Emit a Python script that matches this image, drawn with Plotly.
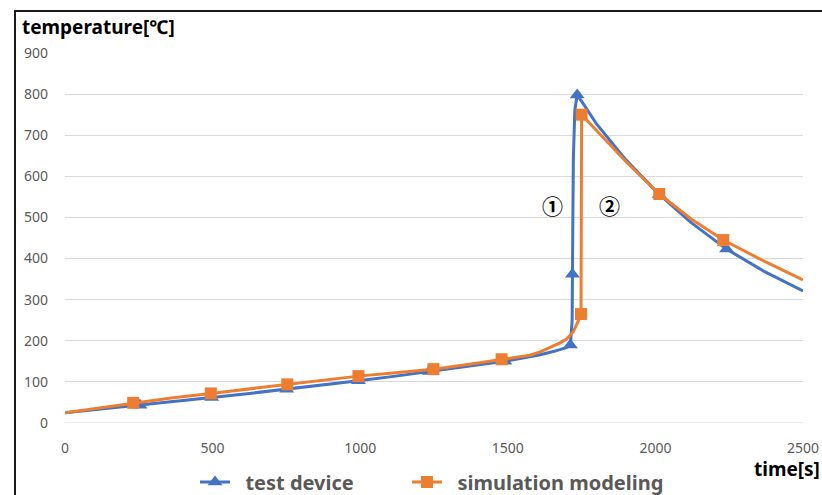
import plotly.graph_objects as go

# ---- data ----
test_line_t = [0, 125, 254, 375, 497, 625, 751, 875, 994, 1120, 1234, 1370, 1490,
               1560, 1610, 1660, 1700, 1712, 1718, 1719, 1722, 1727, 1735, 1760,
               1800, 1900, 2013, 2120, 2241, 2370, 2500]
test_line_T = [25, 34, 43, 53, 62, 72, 82, 93, 103, 114, 125, 137, 150,
               159, 166, 175, 184, 190, 250, 362, 640, 761, 798, 772,
               728, 640, 556, 488, 423, 368, 321]
test_mark_t = [254, 497, 751, 994, 1234, 1490, 1712, 1719, 1735, 2013, 2241]
test_mark_T = [43, 62, 82, 103, 125, 150, 190, 362, 798, 556, 423]

sim_line_t = [0, 115, 231, 360, 494, 620, 753, 875, 994, 1120, 1248, 1370, 1479,
              1575, 1610, 1654, 1677, 1700, 1722, 1740, 1748, 1750, 1800, 1900,
              2013, 2120, 2230, 2370, 2500]
sim_line_T = [25, 37, 49, 61, 72, 83, 94, 104, 114, 122, 131, 143, 155,
              165, 173, 188, 195, 205, 222, 250, 265, 750, 712, 636,
              557, 497, 445, 393, 348]
sim_mark_t = [231, 494, 753, 994, 1248, 1479, 1748, 1750, 2013, 2230]
sim_mark_T = [49, 72, 94, 114, 131, 155, 265, 750, 557, 445]

x_ticks = [0, 500, 1000, 1500, 2000, 2500]
y_ticks = [0, 100, 200, 300, 400, 500, 600, 700, 800, 900]

BLUE = "#4472C4"
ORANGE = "#ED7D31"
FONT = "Noto Sans, Noto Sans CJK KR, sans-serif"
CJK = "Noto Sans CJK KR, sans-serif"

fig = go.Figure()
fig.add_trace(go.Scatter(x=test_line_t, y=test_line_T, mode="lines",
                         line=dict(color=BLUE, width=3), showlegend=False,
                         hoverinfo="skip"))
fig.add_trace(go.Scatter(x=test_mark_t, y=test_mark_T, mode="markers",
                         marker=dict(symbol="triangle-up", size=13, color=BLUE),
                         showlegend=False))
fig.add_trace(go.Scatter(x=sim_line_t, y=sim_line_T, mode="lines",
                         line=dict(color=ORANGE, width=3), showlegend=False,
                         hoverinfo="skip"))
fig.add_trace(go.Scatter(x=sim_mark_t, y=sim_mark_T, mode="markers",
                         marker=dict(symbol="square", size=12, color=ORANGE),
                         showlegend=False))
# legend entries
fig.add_trace(go.Scatter(x=[None], y=[None], mode="lines+markers",
                         name="&nbsp;&nbsp;test device", legend="legend",
                         line=dict(color=BLUE, width=3),
                         marker=dict(symbol="triangle-up", size=13, color=BLUE)))
fig.add_trace(go.Scatter(x=[None], y=[None], mode="lines+markers",
                         name="&nbsp;&nbsp;simulation modeling", legend="legend2",
                         line=dict(color=ORANGE, width=3),
                         marker=dict(symbol="square", size=12, color=ORANGE)))

leg_font = dict(size=20, color="#595959", family=FONT, weight="bold")
fig.update_layout(
    width=822, height=495,
    margin=dict(l=65, r=19, t=53, b=72, autoexpand=False),
    paper_bgcolor="white", plot_bgcolor="white",
    font=dict(family=FONT, size=14, color="#595959"),
    showlegend=True,
    legend=dict(orientation="h", x=(195 - 65) / 738, y=(423 - 482) / 370,
                xanchor="left", yanchor="middle", font=leg_font,
                bgcolor="rgba(0,0,0,0)", itemwidth=30),
    legend2=dict(orientation="h", x=(407 - 65) / 738, y=(423 - 482) / 370,
                 xanchor="left", yanchor="middle", font=leg_font,
                 bgcolor="rgba(0,0,0,0)", itemwidth=30),
    xaxis=dict(range=[0, 2500], tickvals=x_ticks, showgrid=False, zeroline=False,
               showline=False, ticks="", ticklabelstandoff=15,
               tickfont=dict(size=14, color="#595959")),
    yaxis=dict(range=[0, 900], tickvals=y_ticks, showgrid=True, gridcolor="#D9D9D9",
               gridwidth=1, zeroline=False, showline=False, ticks="",
               ticklabelstandoff=16, tickfont=dict(size=14, color="#595959")),
    annotations=[
        dict(text="<b>temperature[℃]</b>", xref="paper", yref="paper",
             x=(20 - 65) / 738, y=(423 - 27) / 370, xanchor="left", yanchor="middle",
             showarrow=False, font=dict(size=19, color="black", family=FONT)),
        dict(text="<b>time[s]</b>", xref="paper", yref="paper",
             x=(822 - 65) / 738, y=(423 - 469) / 370, xanchor="right", yanchor="middle",
             showarrow=False, font=dict(size=19, color="black", family=FONT)),
        dict(text="<b>①</b>", x=1650, y=530, xref="x", yref="y", showarrow=False,
             font=dict(size=21, color="black", family=CJK)),
        dict(text="<b>②</b>", x=1843, y=530, xref="x", yref="y", showarrow=False,
             font=dict(size=21, color="black", family=CJK)),
    ],
    shapes=[
        dict(type="rect", xref="paper", yref="paper",
             x0=(15 - 65) / 738, x1=1.2, y0=-0.4, y1=(423 - 11) / 370,
             line=dict(color="#1a1a1a", width=2), fillcolor="rgba(0,0,0,0)", layer="below"),
        dict(type="line", xref="paper", yref="y", x0=0, x1=1, y0=0, y1=0,
             line=dict(color="#D9D9D9", width=1), layer="below"),
    ],
)

fig.write_html("out.html", config={"displayModeBar": False},
               post_script="document.body.style.margin='0';document.body.style.overflow='hidden';")
